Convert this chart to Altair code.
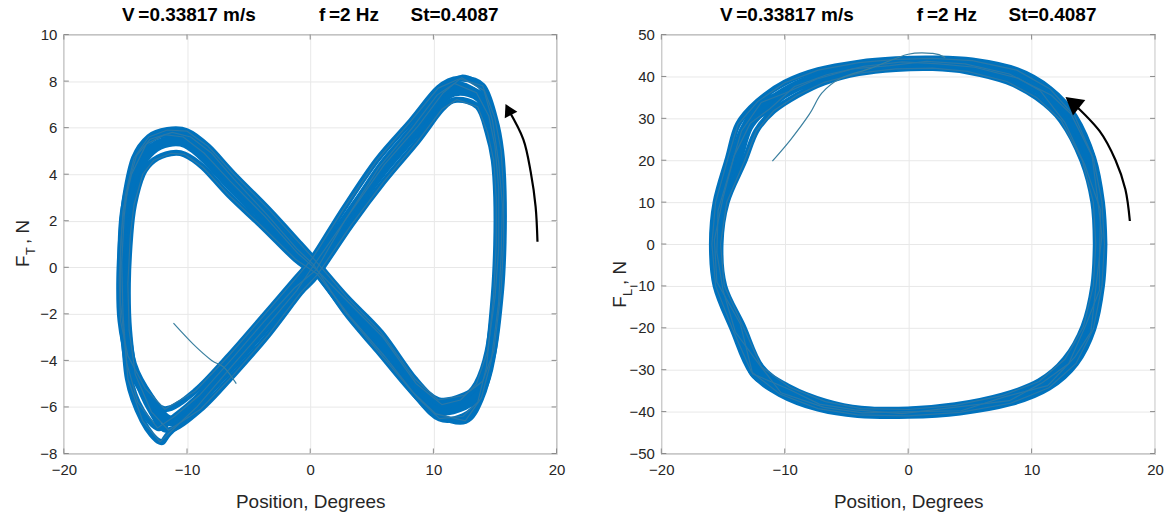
import altair as alt
import pandas as pd

# ---------------- data ----------------
X_TICKS = [-20, -10, 0, 10, 20]
T_TICKS = [-8, -6, -4, -2, 0, 2, 4, 6, 8, 10]
L_TICKS = [-50, -40, -30, -20, -10, 0, 10, 20, 30, 40, 50]

TITLE = "V\u2009=0.33817 m/s" + "\u00a0" * 12 + "f\u2009=2 Hz" + "\u00a0" * 6 + "St=0.4087"

# Left panel: transverse force F_T vs position (figure-eight), several cycles
T0_X = [0.4, 3.0, 5.75, 8.5, 10.4, 12.5, 13.8, 14.6, 15.2, 15.4, 15.4, 15.2, 14.7, 13.8, 12.0, 10.6, 8.5, 5.75, 3.0, 0.4,
        -1.0, -3.6, -6.4, -9.1, -11.3, -13.1, -14.5, -15.0, -15.1, -14.9, -14.6, -13.9, -12.9, -11.5, -10.1, -8.5, -6.4, -3.6, -1.0, 0.4]
T0_Y = [0.0, -1.7, -3.3, -5.2, -6.1, -5.9, -5.3, -3.9, -1.1, 1.0, 3.2, 4.8, 6.1, 7.3, 7.6, 7.2, 5.8, 4.1, 2.1, 0.0,
        -0.85, -2.5, -4.2, -5.7, -6.6, -5.6, -4.2, -2.5, -0.6, 1.5, 2.9, 4.3, 5.05, 5.4, 5.35, 4.7, 3.5, 2.05, 0.65, 0.0]
T1_X = [0.4, 3.0, 5.75, 8.5, 10.4, 12.5, 14.0, 14.9, 15.5, 15.7, 15.7, 15.5, 15.0, 14.0, 12.1, 10.4, 8.2, 5.4, 2.7, 0.2,
        -1.2, -3.8, -6.6, -9.3, -11.8, -13.4, -14.8, -15.4, -15.5, -15.3, -15.0, -14.3, -13.1, -11.6, -10.0, -8.3, -6.2, -3.4, -0.8, 0.4]
T1_Y = [0.3, -1.3, -2.8, -4.8, -5.7, -5.5, -4.9, -3.6, -1.0, 1.1, 3.3, 5.0, 6.4, 7.8, 8.1, 7.7, 6.3, 4.6, 2.5, 0.4,
        -0.5, -2.1, -3.8, -5.3, -6.1, -5.2, -3.8, -2.3, -0.5, 1.6, 3.1, 4.7, 5.6, 5.9, 5.85, 5.2, 4.0, 2.5, 1.0, 0.3]
T2_X = [0.6, 3.2, 6.0, 8.7, 10.5, 12.4, 13.6, 14.3, 14.9, 15.1, 15.1, 14.9, 14.4, 13.6, 11.9, 10.7, 8.7, 6.0, 3.3, 0.6,
        -0.8, -3.4, -6.2, -8.9, -11.5, -12.9, -14.2, -14.7, -14.8, -14.6, -14.3, -13.6, -12.7, -11.3, -10.2, -8.7, -6.6, -3.8, -1.2, 0.6]
T2_Y = [-0.3, -2.1, -3.8, -5.6, -6.5, -6.4, -5.8, -4.3, -1.2, 1.0, 3.0, 4.6, 5.8, 6.9, 7.2, 6.8, 5.4, 3.7, 1.8, -0.3,
        -1.1, -2.9, -4.6, -6.1, -7.0, -6.2, -4.6, -2.7, -0.7, 1.4, 2.7, 4.0, 4.6, 4.9, 4.85, 4.3, 3.1, 1.7, 0.35, -0.3]
T3_X = [0.3, 2.8, 5.5, 8.2, 10.2, 12.6, 13.9, 14.7, 15.3, 15.5, 15.6, 15.3, 14.8, 14.1, 12.3, 10.8, 8.8, 6.0, 3.2, 0.3,
        -1.1, -3.8, -6.6, -9.2, -11.4, -12.2, -13.6, -14.8, -15.2, -15.3, -15.1, -14.8, -14.1, -13.0, -11.2, -9.7, -8.0, -6.2, -3.4, -1.1, 0.3]
T3_Y = [0.1, -1.9, -3.6, -5.3, -6.3, -6.6, -5.6, -4.0, -1.5, 0.5, 2.7, 4.5, 6.3, 7.6, 8.15, 7.5, 6.1, 4.4, 2.3, 0.1,
        -1.0, -2.7, -4.4, -6.0, -7.1, -7.5, -6.6, -4.8, -2.0, 0.2, 2.2, 3.5, 4.8, 5.5, 5.8, 5.6, 4.9, 3.8, 2.2, 0.8, 0.1]
T4_X = [0.5, 3.1, 5.9, 8.6, 10.7, 12.2, 13.5, 14.4, 15.0, 15.3, 15.3, 15.0, 14.5, 13.5, 11.7, 10.3, 8.3, 5.6, 2.8, 0.5,
        -1.3, -3.7, -6.3, -9.0, -11.0, -12.4, -14.0, -14.9, -15.4, -15.4, -15.2, -14.5, -13.3, -11.8, -10.3, -8.6, -6.5, -3.7, -1.0, 0.5]
T4_Y = [-0.1, -1.5, -3.0, -5.0, -5.9, -5.7, -5.0, -3.6, -1.3, 0.8, 3.4, 5.2, 6.5, 7.5, 7.9, 7.4, 6.0, 4.3, 2.0, -0.1,
        -0.9, -2.3, -3.9, -5.5, -6.4, -6.9, -5.8, -4.1, -1.5, 0.8, 2.4, 4.0, 5.3, 5.7, 5.6, 4.9, 3.7, 2.2, 0.6, -0.1]
T_START_X = [-11.1, -9.5, -8.0, -7.0, -6.0]
T_START_Y = [-2.4, -3.3, -4.0, -4.3, -5.0]
T_ARROW_X = [18.45, 18.3, 17.9, 17.3, 16.08]
T_ARROW_Y = [1.1, 2.6, 4.1, 5.5, 6.78]
T_HEAD = (16.08, 6.78)

# Right panel: lift force F_L vs position (closed loop), several cycles
L0_X = [15.6, 15.4, 14.6, 13.0, 11.0, 8.5, 5.0, 2.0, -1.0, -4.0, -7.0, -9.5, -11.5, -13.0, -13.9, -15.2,
        -15.6, -15.3, -13.8, -12.3, -10.0, -7.0, -4.0, 0.0, 4.0, 8.0, 11.0, 13.2, 14.6, 15.4, 15.6]
L0_Y = [0, 10, 20, 30, 36, 40, 42.5, 43.2, 43, 42, 40, 37, 33, 28, 20, 10,
        0, -10, -20, -30, -35, -38.5, -40, -40.2, -39.3, -37, -33.5, -28, -20, -10, 0]
L1_X = [15.9, 15.7, 15.0, 13.5, 11.5, 8.8, 5.2, 2.0, -1.0, -4.0, -7.3, -10.0, -12.2, -13.8, -14.6, -15.6,
        -15.9, -15.6, -14.2, -12.7, -10.4, -7.3, -4.1, 0.0, 4.2, 8.3, 11.4, 13.6, 15.0, 15.7, 15.9]
L1_Y = [0, 10, 20.5, 30.5, 37, 41.5, 43.8, 44.3, 44.1, 43.3, 41.5, 38.5, 34, 28.5, 20.5, 10,
        0, -10, -20.5, -30.5, -35.8, -39.3, -40.8, -41, -40.2, -38, -34.3, -28.5, -20.3, -10, 0]
L2_X = [15.2, 15.0, 14.1, 12.4, 10.4, 8.0, 4.8, 2.0, -1.0, -4.0, -6.8, -9.0, -10.9, -12.3, -13.3, -14.7,
        -15.2, -14.9, -13.4, -11.9, -9.6, -6.7, -3.8, 0.0, 3.8, 7.6, 10.6, 12.7, 14.2, 15.0, 15.2]
L2_Y = [0, 10, 20, 29.5, 35, 38.8, 41.2, 42, 41.8, 40.8, 38.6, 35.5, 31.8, 27, 19.6, 10,
        0, -10, -19.5, -29.3, -34.2, -37.6, -39.3, -39.5, -38.5, -36.2, -32.8, -27.5, -19.7, -10, 0]
L3_X = [15.7, 15.3, 14.9, 13.2, 11.6, 8.2, 4.6, 1.5, -1.5, -4.5, -7.4, -10.0, -11.9, -13.5, -14.3, -15.4,
        -15.5, -15.0, -14.0, -12.0, -10.3, -6.8, -3.7, 0.5, 4.3, 7.8, 11.3, 13.5, 14.8, 15.3, 15.7]
L3_Y = [2, 12, 21, 31, 35.5, 40.6, 43.0, 43.6, 42.6, 41.8, 39.4, 36.0, 33.8, 27, 19, 8,
        -2, -11, -21, -29, -35.5, -39.0, -40.3, -40.0, -39.8, -36.5, -33.8, -27, -21, -8, 2]
L4_X = [15.5, 15.6, 14.3, 12.7, 10.7, 8.9, 5.4, 2.5, -0.5, -3.6, -6.6, -9.2, -11.2, -12.8, -14.1, -15.0,
        -15.7, -15.5, -13.6, -12.6, -9.7, -7.2, -4.3, -0.5, 3.7, 8.2, 10.8, 13.0, 14.4, 15.5, 15.5]
L4_Y = [-2, 8, 19, 29, 36.6, 39.6, 42.2, 43.0, 43.5, 42.4, 40.4, 37.6, 32.3, 28.8, 21, 11,
        1, -9, -19, -31, -34.6, -38.2, -39.6, -40.5, -39.0, -37.4, -33.2, -28.6, -19.3, -11, -2]
L_START_X = [-11.0, -9.5, -8.0, -7.0, -5.5, -3.0, 0.0, 2.0, 3.0]
L_START_Y = [19.8, 25.0, 31.0, 36.0, 39.5, 42.0, 45.3, 45.5, 44.5]
L_ARROW_X = [17.96, 17.6, 16.8, 15.5, 13.3]
L_ARROW_Y = [5.5, 13.0, 20.0, 27.0, 33.8]
L_HEAD = (13.3, 33.8)

# ---------------- styling ----------------
BLUE = "#0072BD"
EDGE = "#2a78a8"
FONT = "Liberation Sans"
TXT = "#262626"
H = 420


def loops_frame(pairs):
    rows = []
    for k, (xs, ys) in enumerate(pairs):
        for i, (a, b) in enumerate(zip(xs, ys)):
            rows.append({"loop": k, "i": i, "x": a, "y": b})
    return pd.DataFrame(rows)


def panel(pairs, sx, sy, ax, ay, head, head_size, head_angle, ydom, yticks, sub, ytitle_y, width):
    xenc = alt.X("x:Q", scale=alt.Scale(domain=[-20, 20], nice=False, zero=False),
                 axis=alt.Axis(values=X_TICKS, title="Position, Degrees", grid=True, labelFlush=False))
    yenc = alt.Y("y:Q", scale=alt.Scale(domain=ydom, nice=False, zero=False),
                 axis=alt.Axis(values=yticks, title=None, grid=True, labelFlush=False))

    loops = loops_frame(pairs)
    band = alt.Chart(loops[loops["loop"] == 0]).mark_line(
        color=BLUE, strokeWidth=11, strokeJoin="round", interpolate="cardinal"
    ).encode(x=xenc, y=yenc, order="i:Q")
    thick = alt.Chart(loops[loops["loop"] > 0]).mark_line(
        color=BLUE, strokeWidth=6, strokeJoin="round", interpolate="cardinal"
    ).encode(x=xenc, y=yenc, order="i:Q", detail="loop:N")
    thin = alt.Chart(loops[loops["loop"] > 0]).mark_line(
        color=EDGE, strokeWidth=1.2, strokeJoin="miter"
    ).encode(x=xenc, y=yenc, order="i:Q", detail="loop:N")

    start = alt.Chart(pd.DataFrame({"x": sx, "y": sy, "i": range(len(sx))})).mark_line(
        color="#3a7f9f", strokeWidth=1.2, interpolate="cardinal"
    ).encode(x=xenc, y=yenc, order="i:Q")

    arrow = alt.Chart(pd.DataFrame({"x": ax, "y": ay, "i": range(len(ax))})).mark_line(
        color="black", strokeWidth=2.2, interpolate="cardinal"
    ).encode(x=xenc, y=yenc, order="i:Q")
    arrow_head = alt.Chart(pd.DataFrame({"x": [head[0]], "y": [head[1]]})).mark_point(
        shape="triangle-up", filled=True, color="black", opacity=1, size=head_size, angle=head_angle
    ).encode(x=xenc, y=yenc)

    # inward MATLAB-style ticks
    xt = pd.DataFrame({"x": X_TICKS})
    yt = pd.DataFrame({"y": yticks})
    tick_color = "#8a8a8a"
    xtb = alt.Chart(xt).mark_rule(color=tick_color).encode(x=xenc, y=alt.value(H), y2=alt.value(H - 5))
    xtt = alt.Chart(xt).mark_rule(color=tick_color).encode(x=xenc, y=alt.value(0), y2=alt.value(5))
    ytl = alt.Chart(yt).mark_rule(color=tick_color).encode(y=yenc, x=alt.value(0), x2=alt.value(5))
    ytr = alt.Chart(yt).mark_rule(color=tick_color).encode(y=yenc, x=alt.value(width), x2=alt.value(width - 5))

    # y title with subscript
    one = pd.DataFrame({"a": [0]})
    f_txt = alt.Chart(one).mark_text(text="F", fontSize=19, font=FONT, color=TXT, angle=270,
                                     align="left", baseline="alphabetic").encode(
        x=alt.value(-35), y=alt.value(ytitle_y))
    s_txt = alt.Chart(one).mark_text(text=sub, fontSize=13, font=FONT, color=TXT, angle=270,
                                     align="left", baseline="alphabetic").encode(
        x=alt.value(-29), y=alt.value(ytitle_y - 12))
    n_txt = alt.Chart(one).mark_text(text=", N", fontSize=19, font=FONT, color=TXT, angle=270,
                                     align="left", baseline="alphabetic").encode(
        x=alt.value(-35), y=alt.value(ytitle_y - 23))

    return alt.layer(band, thick, thin, start, arrow, arrow_head, xtb, xtt, ytl, ytr,
                     f_txt, s_txt, n_txt).properties(
        width=width, height=H,
        title=alt.TitleParams(text=TITLE, fontSize=19, fontWeight="bold", font=FONT,
                              color="black", offset=3, anchor="middle"))


left = panel([(T0_X, T0_Y), (T1_X, T1_Y), (T2_X, T2_Y), (T3_X, T3_Y), (T4_X, T4_Y)],
             T_START_X, T_START_Y, T_ARROW_X, T_ARROW_Y, T_HEAD, 200, 333,
             [-8, 10], T_TICKS, "T", 233, 494)
right = panel([(L0_X, L0_Y), (L1_X, L1_Y), (L2_X, L2_Y), (L3_X, L3_Y), (L4_X, L4_Y)],
              L_START_X, L_START_Y, L_ARROW_X, L_ARROW_Y, L_HEAD, 400, 308,
              [-50, 50], L_TICKS, "L", 274, 495)

chart = alt.hconcat(left, right, spacing=45).properties(
    padding={"left": 13, "top": 4, "right": 5, "bottom": 2},
    background="white",
).configure_view(stroke="#8a8a8a", strokeWidth=1.2).configure_axis(
    domain=False, ticks=False, gridColor="#e8e8e8", gridWidth=1,
    labelFont=FONT, labelFontSize=15, labelColor=TXT, labelPadding=7,
    titleFont=FONT, titleFontSize=19, titleFontWeight="normal", titleColor=TXT, titlePadding=14,
).configure_axisX(labelOverlap=False, labelPadding=9, titlePadding=15).configure_axisY(labelOverlap=False)

chart.save("out.html", embed_options={"renderer": "svg", "actions": False})
